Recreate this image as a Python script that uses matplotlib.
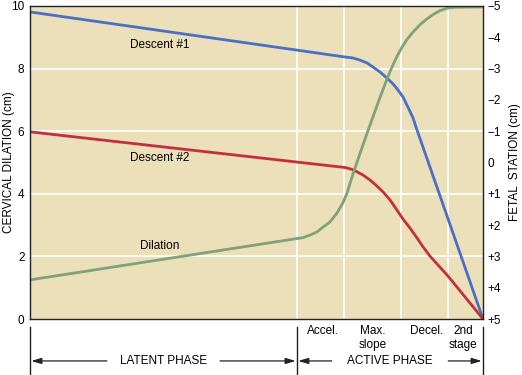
import matplotlib
matplotlib.use("Agg")
import matplotlib.pyplot as plt
from matplotlib.lines import Line2D
import matplotlib.transforms as mtransforms

plt.rcParams['font.family'] = ['Liberation Sans', 'DejaVu Sans']

# ---- data (time in hours, cervical dilation in cm) ----
descent1_t = [0.0, 9.74, 9.98, 10.20, 10.42, 10.60, 10.82, 11.03, 11.22, 11.37,
              11.53, 11.68, 11.84, 11.93, 14.0]
descent1_d = [9.81, 8.37, 8.34, 8.27, 8.18, 8.05, 7.89, 7.70, 7.51, 7.32,
              7.09, 6.77, 6.42, 6.13, 0.0]

descent2_t = [0.0, 9.74, 9.95, 10.11, 10.29, 10.51, 10.72, 10.91, 11.13, 11.34,
              11.53, 11.74, 11.96, 12.15, 12.36, 12.92, 14.0]
descent2_d = [5.98, 4.84, 4.78, 4.70, 4.60, 4.44, 4.25, 4.06, 3.80, 3.48,
              3.19, 2.91, 2.59, 2.30, 2.01, 1.37, 0.0]

dilation_t = [0.0, 8.25, 8.44, 8.65, 8.87, 9.06, 9.27, 9.49, 9.67, 9.80,
              9.89, 9.98, 10.11, 10.20, 10.29, 10.42, 10.60, 10.76, 10.91,
              11.03, 11.13, 11.24, 11.34, 11.50, 11.65, 11.84, 12.05, 12.27,
              12.46, 12.67, 12.89, 13.13, 14.0]
dilation_d = [1.25, 2.57, 2.60, 2.68, 2.78, 2.94, 3.10, 3.39, 3.71, 4.03,
              4.33, 4.63, 5.02, 5.29, 5.56, 5.94, 6.46, 6.92, 7.33,
              7.66, 7.91, 8.17, 8.39, 8.69, 8.93, 9.17, 9.40, 9.59,
              9.73, 9.85, 9.93, 9.96, 9.97]

phase_bounds = [8.25, 9.70, 11.47, 12.92]
phase_labels = ["Accel.", "Max.\nslope", "Decel.", "2nd\nstage"]
phase_centers = [9.06, 10.60, 12.27, 13.38]

dil_ticks = [0, 2, 4, 6, 8, 10]
station_ticks = [-5, -4, -3, -2, -1, 0, 1, 2, 3, 4, 5]
station_labels = ["\u22125", "\u22124", "\u22123", "\u22122", "\u22121", "0",
                  "+1", "+2", "+3", "+4", "+5"]

# ---- styling ----
bg = "#EBE0BA"
blue = "#4A6FC6"
red = "#C2303E"
green = "#7FA27A"
fs = 8.5

fig = plt.figure(figsize=(5.22, 3.75), dpi=100)
ax = fig.add_axes([30/522, 56/375, 453/522, 313/375])
ax.set_facecolor(bg)
ax.set_xlim(0, 14)
ax.set_ylim(0, 10)

# grid
for y in [2, 4, 6, 8]:
    ax.axhline(y, color="white", lw=1.2, zorder=1)
for x in phase_bounds:
    ax.axvline(x, color="white", lw=1.2, zorder=1)

kw = dict(lw=2.0, zorder=3, solid_capstyle='butt', solid_joinstyle='round')
ax.plot(descent1_t, descent1_d, color=blue, **kw)
ax.plot(descent2_t, descent2_d, color=red, **kw)
ax.plot(dilation_t, dilation_d, color=green, **kw)

ax.text(4.02, 8.75, "Descent #1", fontsize=fs, ha="center", va="center")
ax.text(4.02, 5.14, "Descent #2", fontsize=fs, ha="center", va="center")
ax.text(4.02, 2.33, "Dilation", fontsize=fs, ha="center", va="center")

ax.set_xticks([])
ax.set_yticks(dil_ticks)
ax.set_yticklabels([str(v) for v in dil_ticks], fontsize=fs)
ax.tick_params(axis="y", length=0, pad=4)
ax.set_ylabel("CERVICAL DILATION (cm)", fontsize=fs)
ax.yaxis.set_label_coords(-0.033, 0.5)
for s in ax.spines.values():
    s.set_color("#222222")
    s.set_linewidth(1.0)
    s.set_zorder(4)

ax2 = ax.twinx()
ax2.set_ylim(5, -5)
ax2.set_yticks(station_ticks)
ax2.set_yticklabels(station_labels, fontsize=fs)
ax2.tick_params(axis="y", which="major", length=0, pad=3)
ax2.set_yticks([-4, -2, 0, 2, 4], minor=True)
ax2.tick_params(axis="y", which="minor", length=6, width=1.2, color="white",
                direction="in")
ax2.set_ylabel("FETAL  STATION (cm)", fontsize=fs)
ax2.yaxis.set_label_coords(1.058, 0.5)
for s in ax2.spines.values():
    s.set_visible(False)

# bottom phase annotations
trans = mtransforms.blended_transform_factory(ax.transData, ax.transAxes)
for x, lab in zip(phase_centers, phase_labels):
    ax.text(x, -0.02, lab, transform=trans, fontsize=fs, ha="center", va="top",
            linespacing=1.15)

for x in [0.0, 8.25, 14.0]:
    ax.add_line(Line2D([x, x], [-0.026, -0.185], transform=trans, color="#222222",
                       lw=1.0, clip_on=False))

ay = -0.134
arrowprops = dict(arrowstyle="-|>,head_length=0.6,head_width=0.18", color="#222222",
                  lw=0.9, shrinkA=0, shrinkB=0)
def phase_arrow(x0, x1, label):
    xm = (x0 + x1) / 2
    ax.text(xm, ay, label, transform=trans, fontsize=fs, ha="center",
            va="center", clip_on=False)
    half = 1.75 if label.startswith("LATENT") else 1.8
    ax.annotate("", xy=(x0 + 0.04, ay), xytext=(xm - half, ay), xycoords=trans,
                textcoords=trans, arrowprops=arrowprops, annotation_clip=False)
    ax.annotate("", xy=(x1 - 0.04, ay), xytext=(xm + half, ay), xycoords=trans,
                textcoords=trans, arrowprops=arrowprops, annotation_clip=False)

phase_arrow(0.0, 8.25, "LATENT PHASE")
phase_arrow(8.25, 14.0, "ACTIVE PHASE")

fig.savefig("out.png", dpi=100)
